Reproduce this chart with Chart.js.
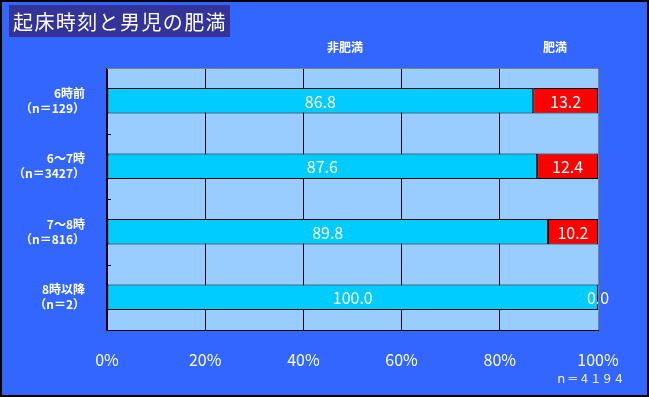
<!DOCTYPE html>
<html>
<head>
<meta charset="utf-8">
<script src="https://cdn.jsdelivr.net/npm/chart.js@4"></script>
<style>
  html, body { margin: 0; padding: 0; background: #3366ff; }
  canvas { display: block; }
</style>
</head>
<body>
<canvas id="wykres" width="649" height="397"></canvas>
<script>
const TYTUL = '起床時刻と男児の肥満';
const KATEGORIE = [
    ['6時前', '（n＝129）'],
    ['6～7時', '（n＝3427）'],
    ['7～8時', '（n＝816）'],
    ['8時以降', '（n＝2）']
];
const SERIA_NAZWY = ['非肥満', '肥満'];
const NIE_OTYLE = [86.8, 87.6, 89.8, 100.0];
const OTYLE = [13.2, 12.4, 10.2, 0.0];
const RAZEM_N = 'ｎ＝４１９４';

const CZCIONKA = "'Noto Sans CJK JP', 'DejaVu Sans', sans-serif";

const tloWykresu = {
    id: 'tloWykresu',
    beforeDraw(chart) {
        const { ctx, chartArea: a } = chart;
        ctx.save();
        ctx.fillStyle = '#99ccff';
        ctx.fillRect(a.left, a.top, a.right - a.left, a.bottom - a.top);
        ctx.restore();
    },
    afterDraw(chart) {
        const { ctx, chartArea: a, scales } = chart;
        ctx.save();
        // ramka obszaru wykresu
        ctx.lineWidth = 1;
        ctx.strokeStyle = '#808080';
        ctx.beginPath();
        ctx.moveTo(a.left, a.top + 0.5);
        ctx.lineTo(a.right + 0.5, a.top + 0.5);
        ctx.lineTo(a.right + 0.5, a.bottom);
        ctx.stroke();
        ctx.strokeStyle = '#000';
        ctx.beginPath();
        ctx.moveTo(a.left - 0.5, a.top);
        ctx.lineTo(a.left - 0.5, a.bottom + 0.5);
        ctx.lineTo(a.right + 1, a.bottom + 0.5);
        ctx.stroke();
        // kreski podziału kategorii
        const y = scales.y;
        for (let i = 1; i < KATEGORIE.length; i++) {
            const py = Math.round((y.getPixelForValue(i - 1) + y.getPixelForValue(i)) / 2) + 0.5;
            ctx.beginPath();
            ctx.moveTo(a.left, py);
            ctx.lineTo(a.left + 4, py);
            ctx.stroke();
        }
        // tytuł
        ctx.fillStyle = '#333399';
        ctx.fillRect(9, 5, 221, 32);
        ctx.fillStyle = '#fff';
        ctx.font = '20px ' + CZCIONKA;
        ctx.textBaseline = 'middle';
        ctx.textAlign = 'left';
        ctx.letterSpacing = '1.4px';
        ctx.fillText(TYTUL, 13, 22);
        ctx.letterSpacing = '0px';
        // nagłówki serii
        ctx.font = 'bold 12px ' + CZCIONKA;
        ctx.textAlign = 'center';
        ctx.fillText(SERIA_NAZWY[0], 345, 47);
        ctx.fillText(SERIA_NAZWY[1], 555, 47);
        // liczebność
        ctx.font = '11.5px ' + CZCIONKA;
        ctx.fillText(RAZEM_N, 590, 379);
        // ramka zewnętrzna
        ctx.strokeStyle = '#000';
        ctx.lineWidth = 2;
        ctx.strokeRect(1, 1, chart.width - 2, chart.height - 2);
        ctx.restore();
    }
};

const etykietyWartosci = {
    id: 'etykietyWartosci',
    afterDatasetsDraw(chart) {
        const { ctx } = chart;
        ctx.save();
        ctx.fillStyle = '#fff';
        ctx.font = '16px ' + CZCIONKA;
        ctx.textAlign = 'center';
        ctx.textBaseline = 'middle';
        chart.data.datasets.forEach((ds, di) => {
            const meta = chart.getDatasetMeta(di);
            meta.data.forEach((bar, i) => {
                const x = (bar.base + bar.x) / 2;
                ctx.fillText(ds.data[i].toFixed(1), x, bar.y + 1);
            });
        });
        ctx.restore();
    }
};

const ctx = document.getElementById('wykres').getContext('2d');
new Chart(ctx, {
    type: 'bar',
    data: {
        labels: KATEGORIE,
        datasets: [
            {
                label: SERIA_NAZWY[0],
                data: NIE_OTYLE,
                backgroundColor: '#00ccff',
                borderColor: '#000',
                borderWidth: 1,
                borderSkipped: false,
                categoryPercentage: 1,
                barPercentage: 0.39
            },
            {
                label: SERIA_NAZWY[1],
                data: OTYLE,
                backgroundColor: '#ff0000',
                borderColor: '#000',
                borderWidth: 1,
                borderSkipped: false,
                categoryPercentage: 1,
                barPercentage: 0.39
            }
        ]
    },
    options: {
        indexAxis: 'y',
        responsive: false,
        animation: false,
        layout: { padding: { left: 0, top: 68, right: 51, bottom: 0 } },
        plugins: {
            legend: { display: false },
            tooltip: { enabled: false }
        },
        scales: {
            x: {
                stacked: true,
                min: 0,
                max: 100,
                border: { display: false },
                grid: { color: '#000', lineWidth: 1, drawTicks: false },
                ticks: {
                    stepSize: 20,
                    padding: 20,
                    color: '#fff',
                    font: { size: 16, family: CZCIONKA },
                    callback: v => v + '%'
                },
                afterFit(s) { s.height = 67; }
            },
            y: {
                stacked: true,
                border: { display: false },
                grid: { display: false },
                ticks: {
                    padding: 14,
                    crossAlign: 'near',
                    color: '#fff',
                    font: { size: 12, weight: 'bold', family: CZCIONKA, lineHeight: 1.25 }
                },
                afterFit(s) { s.width = 107; }
            }
        }
    },
    plugins: [tloWykresu, etykietyWartosci]
});
</script>
</body>
</html>
